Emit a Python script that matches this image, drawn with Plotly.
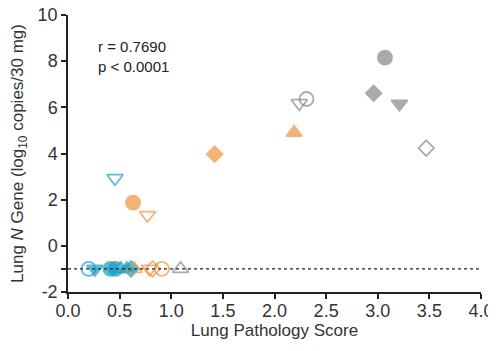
import plotly.graph_objects as go

# Data
cyan_x = [0.20, 0.26, 0.41, 0.46, 0.51, 0.57, 0.61, 0.455]
cyan_y = [-1, -1, -1, -1, -1, -1, -1, 2.93]
orange_x = [0.64, 0.79, 0.82, 0.91, 0.63, 0.77, 1.42, 2.19]
orange_y = [-1, -1, -1, -1, 1.87, 1.33, 3.97, 4.90]
gray_x = [1.09, 2.24, 2.31, 3.07, 2.96, 3.21, 3.47]
gray_y = [-1, 6.18, 6.36, 8.15, 6.61, 6.15, 4.23]

x_ticks = [0.0, 0.5, 1.0, 1.5, 2.0, 2.5, 3.0, 3.5, 4.0]
x_tick_labels = ["0.0", "0.5", "1.0", "1.5", "2.0", "2.5", "3.0", "3.5", "4.0"]
y_ticks = [-2, 0, 2, 4, 6, 8, 10]
y_tick_labels = ["-2", "0", "2", "4", "6", "8", "10"]
detection_limit = -1
stats_text = "r = 0.7690<br>p < 0.0001"

# Styles
cyan_sym = ['circle-open', 'triangle-down', 'circle', 'circle', 'triangle-up-open',
            'triangle-up', 'diamond', 'triangle-down-open']
orange_sym = ['triangle-up-open', 'triangle-down-open', 'diamond-open', 'circle-open',
              'circle', 'triangle-down-open', 'diamond', 'triangle-up']
gray_sym = ['triangle-up-open', 'triangle-down-open', 'circle-open', 'circle',
            'diamond', 'triangle-down', 'diamond-open']

def sizes(syms):
    out = []
    for s in syms:
        if s.startswith('diamond'):
            out.append(12)
        else:
            out.append(14)
    return out

CYAN = "#179fc5"
ORANGE = "#ef9440"
GRAY = "#878787"
FONT = "Liberation Sans, Arial, sans-serif"

fig = go.Figure()
fig.add_shape(type="line", x0=0, x1=4, y0=detection_limit, y1=detection_limit,
              xref="x", yref="y", line=dict(color="#222", width=1.3, dash="dot"))
for xs, ys, syms, col in [(cyan_x, cyan_y, cyan_sym, CYAN),
                          (orange_x, orange_y, orange_sym, ORANGE),
                          (gray_x, gray_y, gray_sym, GRAY)]:
    fig.add_trace(go.Scatter(
        x=xs, y=ys, mode="markers",
        marker=dict(symbol=syms, size=sizes(syms), color=col,
                    line=dict(color=col, width=1.8)),
        showlegend=False, cliponaxis=False))

fig.add_annotation(x=0.27, y=8.2, xref="x", yref="y", text=stats_text,
                   showarrow=False, xanchor="left", yanchor="middle", align="left",
                   font=dict(family=FONT, size=15, color="#222"))

tick_font = dict(family=FONT, size=18, color="#333")
title_font = dict(family=FONT, size=17, color="#333")
# page body has an 8px default margin, so the figure is sized to fit the window
fig.update_layout(
    width=488, height=343,
    margin=dict(l=60, r=15, t=7, b=59),
    paper_bgcolor="white", plot_bgcolor="white",
    font=dict(family=FONT, color="#333"),
    xaxis=dict(range=[0, 4], tickvals=x_ticks, ticktext=x_tick_labels, automargin=False,
               showgrid=False, zeroline=False, showline=True, linecolor="#222",
               linewidth=1.5, ticks="outside", ticklen=5, tickwidth=1.5, tickcolor="#222",
               tickfont=tick_font, ticklabelstandoff=-3, ticklabeloverflow="allow",
               title=dict(text="Lung Pathology Score", font=title_font, standoff=4)),
    yaxis=dict(range=[-2, 10], tickvals=y_ticks, ticktext=y_tick_labels, automargin=False,
               showgrid=False, zeroline=False, showline=True, linecolor="#222",
               linewidth=1.5, ticks="outside", ticklen=5, tickwidth=1.5, tickcolor="#222",
               tickfont=tick_font, ticklabeloverflow="allow",
               minor=dict(tickvals=[-1], ticks="outside", ticklen=5, tickwidth=1.5,
                          tickcolor="#222"),
               title=dict(text="Lung <i>N</i> Gene (log<sub>10</sub> copies/30 mg)",
                          font=title_font, standoff=14)),
)

fig.write_html("out.html")
